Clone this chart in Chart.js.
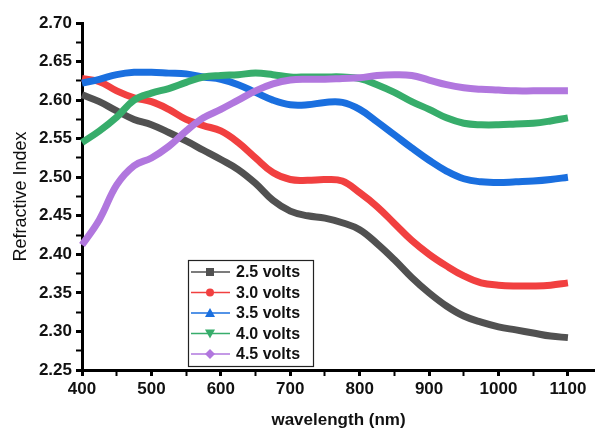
<!DOCTYPE html>
<html>
<head>
<meta charset="utf-8">
<script src="https://cdn.jsdelivr.net/npm/chart.js@4.4.0/dist/chart.umd.min.js"></script>
<style>
  html, body { margin: 0; padding: 0; background: #fff; }
  #wrap { width: 595px; height: 430px; position: relative; }
</style>
</head>
<body>
<div id="wrap"><canvas id="chart" width="595" height="430"></canvas></div>
<script>
// wavelength in nm
const wavelength = [400, 425, 450, 475, 500, 525, 550, 575, 600, 625, 650, 675, 700, 725, 750,
  775, 800, 825, 850, 875, 900, 925, 950, 975, 1000, 1025, 1050, 1075, 1100];

const volts25 = [2.607, 2.598, 2.586, 2.575, 2.568, 2.558, 2.547, 2.535, 2.523, 2.510, 2.492, 2.470, 2.456, 2.450, 2.447,
  2.441, 2.432, 2.414, 2.393, 2.370, 2.350, 2.333, 2.320, 2.312, 2.306, 2.302, 2.298, 2.294, 2.292];
const volts30 = [2.628, 2.624, 2.612, 2.603, 2.598, 2.588, 2.575, 2.567, 2.560, 2.545, 2.525, 2.506, 2.497, 2.496, 2.497,
  2.495, 2.480, 2.462, 2.440, 2.418, 2.400, 2.385, 2.372, 2.363, 2.360, 2.359, 2.359, 2.360, 2.363];
const volts35 = [2.622, 2.627, 2.633, 2.636, 2.636, 2.635, 2.634, 2.630, 2.627, 2.620, 2.610, 2.600, 2.594, 2.594, 2.597,
  2.597, 2.588, 2.572, 2.555, 2.538, 2.522, 2.508, 2.498, 2.494, 2.493, 2.494, 2.495, 2.497, 2.500];
const volts40 = [2.545, 2.560, 2.578, 2.600, 2.609, 2.615, 2.623, 2.630, 2.632, 2.633, 2.635, 2.633, 2.630, 2.630, 2.630,
  2.630, 2.628, 2.620, 2.610, 2.598, 2.588, 2.577, 2.570, 2.568, 2.568, 2.569, 2.570, 2.573, 2.577];
const volts45 = [2.412, 2.445, 2.490, 2.515, 2.525, 2.540, 2.560, 2.577, 2.588, 2.600, 2.612, 2.621, 2.626, 2.627, 2.627,
  2.628, 2.629, 2.632, 2.633, 2.632, 2.626, 2.620, 2.616, 2.614, 2.613, 2.612, 2.612, 2.612, 2.612];

const seriesLabels = ["2.5 volts", "3.0 volts", "3.5 volts", "4.0 volts", "4.5 volts"];
const seriesValues = [volts25, volts30, volts35, volts40, volts45];
const seriesColors = ["#515151", "#F14040", "#1A6FDF", "#37AD6B", "#B177DE"];
const seriesMarkers = ["rect", "circle", "triangle", "triangleDown", "rectRot"];

// axis ticks (labels only on the major ones)
const xTicks = [400, 450, 500, 550, 600, 650, 700, 750, 800, 850, 900, 950, 1000, 1050, 1100];
const yTicks = [2.25, 2.275, 2.30, 2.325, 2.35, 2.375, 2.40, 2.425, 2.45, 2.475, 2.50,
  2.525, 2.55, 2.575, 2.60, 2.625, 2.65, 2.675, 2.70];

const FONT = "'Liberation Sans', Arial, sans-serif";

function drawMarker(ctx, kind, x, y, r) {
  ctx.beginPath();
  if (kind === "rect") {
    ctx.rect(x - r, y - r, 2 * r, 2 * r);
  } else if (kind === "circle") {
    ctx.arc(x, y, r, 0, Math.PI * 2);
  } else if (kind === "triangle") {
    ctx.moveTo(x, y - r - 1); ctx.lineTo(x + r + 1, y + r); ctx.lineTo(x - r - 1, y + r); ctx.closePath();
  } else if (kind === "triangleDown") {
    ctx.moveTo(x, y + r + 1); ctx.lineTo(x + r + 1, y - r); ctx.lineTo(x - r - 1, y - r); ctx.closePath();
  } else {
    ctx.moveTo(x, y - r - 1); ctx.lineTo(x + r + 1, y); ctx.lineTo(x, y + r + 1); ctx.lineTo(x - r - 1, y); ctx.closePath();
  }
  ctx.fill();
}

// legend box drawn inside the plot area
const insideLegend = {
  id: "insideLegend",
  afterDraw(chart) {
    const ctx = chart.ctx;
    const left = 188, top = 260, w = 125, h = 106, rowH = 20.5;
    ctx.save();
    ctx.fillStyle = "#fff";
    ctx.fillRect(left, top, w, h);
    ctx.strokeStyle = "#222";
    ctx.lineWidth = 1.2;
    ctx.strokeRect(left + 0.5, top + 0.5, w, h);
    ctx.font = "bold 16px " + FONT;
    ctx.textBaseline = "middle";
    seriesLabels.forEach((lab, i) => {
      const y = top + 12 + i * rowH;
      ctx.strokeStyle = seriesColors[i];
      ctx.lineWidth = 1.5;
      ctx.beginPath(); ctx.moveTo(191, y); ctx.lineTo(230, y); ctx.stroke();
      ctx.fillStyle = seriesColors[i];
      drawMarker(ctx, seriesMarkers[i], 210, y, 4);
      ctx.fillStyle = "#111";
      ctx.fillText(lab, 236, y + 1);
    });
    ctx.restore();
  }
};

new Chart(document.getElementById("chart"), {
  type: "line",
  data: {
    datasets: seriesLabels.map((lab, i) => ({
      label: lab,
      data: wavelength.map((x, j) => ({ x: x, y: seriesValues[i][j] })),
      borderColor: seriesColors[i],
      backgroundColor: seriesColors[i],
      borderWidth: 7,
      pointRadius: 0,
      tension: 0.4,
      order: 4 - i,
      clip: false
    }))
  },
  options: {
    responsive: false,
    animation: false,
    layout: { padding: { top: 23, right: 0, bottom: 0, left: 0 } },
    plugins: { legend: { display: false }, tooltip: { enabled: false } },
    scales: {
      x: {
        type: "linear",
        min: 400,
        max: 1139,
        afterBuildTicks: s => { s.ticks = xTicks.map(v => ({ value: v })); },
        afterFit: s => { s.height = 60; },
        ticks: {
          autoSkip: false,
          maxRotation: 0,
          padding: 3,
          color: "#111",
          font: { family: FONT, size: 17, weight: "bold" },
          callback: v => (v % 100 === 0 ? String(v) : "")
        },
        grid: {
          display: true, drawOnChartArea: false, tickLength: 6, tickColor: "#000",
          tickWidth: c => (c.tick && c.tick.value % 100 === 0 ? 3 : 2)
        },
        border: { display: true, color: "#000", width: 3 },
        title: {
          display: true,
          text: "wavelength (nm)",
          color: "#111",
          font: { family: FONT, size: 17, weight: "bold", lineHeight: 1.0 },
          padding: { top: 0, bottom: 1 }
        }
      },
      y: {
        min: 2.25,
        max: 2.70,
        afterBuildTicks: s => { s.ticks = yTicks.map(v => ({ value: v })); },
        afterFit: s => { s.width = 82; },
        ticks: {
          autoSkip: false,
          padding: 4,
          color: "#111",
          font: { family: FONT, size: 17, weight: "bold" },
          callback: v => (Math.round(v * 1000) % 50 === 0 ? v.toFixed(2) : "")
        },
        grid: {
          display: true, drawOnChartArea: false, tickLength: 6, tickColor: "#000",
          tickWidth: c => (c.tick && Math.round(c.tick.value * 1000) % 50 === 0 ? 3 : 2)
        },
        border: { display: true, color: "#000", width: 3 },
        title: {
          display: true,
          text: "Refractive Index",
          color: "#111",
          font: { family: FONT, size: 18 },
          padding: { top: 10, bottom: 0 }
        }
      }
    }
  },
  plugins: [insideLegend]
});
</script>
</body>
</html>
